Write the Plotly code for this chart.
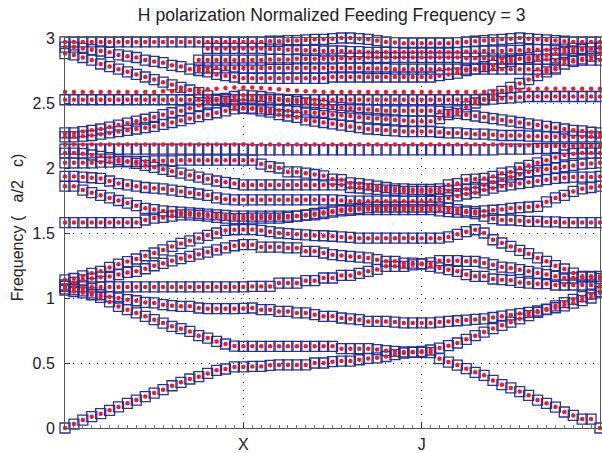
import plotly.graph_objects as go

k_index = list(range(61))
x_tick_vals = [20, 40]
x_tick_text = ["X", "J"]
y_tick_vals = [0, 0.5, 1, 1.5, 2, 2.5, 3]
y_tick_text = ["0", "0.5", "1", "1.5", "2", "2.5", "3"]
N = None

# ---- band values (Gamma -> X -> J -> Gamma, 61 k-points) ----
band_01 = [0, 0.03, 0.061, 0.087, 0.11, 0.136, 0.162, 0.19, 0.215, 0.242, 0.269, 0.295, 0.325, 0.351, 0.377, 0.395, 0.42, 0.444, 0.454, 0.47, 0.47,
           0.474, 0.474, 0.482, 0.485, 0.485, 0.485, 0.485, 0.5, 0.5, 0.51, 0.515, 0.515, 0.525, 0.535, 0.54, 0.55, 0.564, 0.577, 0.582, 0.582,
           0.58, 0.533, 0.507, 0.484, 0.456, 0.428, 0.405, 0.366, 0.333, 0.308, 0.28, 0.251, 0.215, 0.19, 0.161, 0.123, 0.097, 0.069, 0.069, 0.0]
band_02 = [1.06, 1.05, 1.04, 1.025, 1.005, 0.97, 0.935, 0.91, 0.885, 0.859, 0.833, 0.807, 0.782, 0.764, 0.743, 0.71, 0.692, 0.666, 0.646, 0.63, 0.628,
           0.628, 0.628, 0.628, 0.628, 0.628, 0.628, 0.628, 0.628, 0.628, 0.628, 0.61, 0.61, 0.61, 0.61, 0.603, 0.595, 0.59, 0.585, 0.585, 0.59,
           0.6, 0.615, 0.633, 0.654, 0.682, 0.71, 0.738, 0.765, 0.79, 0.815, 0.84, 0.865, 0.89, 0.915, 0.94, 0.965, 0.99, 1.01, 1.03, 1.05]
band_03 = [1.07, 1.065, 1.055, 1.04, 1.025, 1.01, 1.0, 0.987, 0.979, 0.966, 0.962, 0.949, 0.941, 0.936, 0.936, 0.923, 0.918, 0.918, 0.918, 0.918, 0.92,
           0.923, 0.91, 0.91, 0.897, 0.897, 0.885, 0.885, 0.872, 0.859, 0.859, 0.846, 0.84, 0.833, 0.82, 0.82, 0.82, 0.815, 0.808, 0.808, 0.808,
           0.808, 0.815, 0.82, 0.825, 0.83, 0.835, 0.84, 0.85, 0.86, 0.87, 0.88, 0.89, 0.9, 0.91, 0.925, 0.94, 0.96, 0.98, 1.0, 1.04]
band_04 = [1.09, 1.085, 1.085, 1.085, 1.085, 1.085, 1.085, 1.085, 1.085, 1.085, 1.085, 1.085, 1.085, 1.085, 1.085, 1.085, 1.085, 1.085, 1.085, 1.085, 1.085,
           1.089, 1.089, 1.089, 1.115, 1.115, 1.115, 1.133, 1.133, 1.154, 1.154, 1.174, 1.174, 1.19, 1.205, 1.22, 1.244, 1.244, 1.244, 1.255, 1.26,
           1.244, 1.231, 1.218, 1.205, 1.18, 1.167, 1.167, 1.146, 1.141, 1.136, 1.12, 1.115, 1.11, 1.11, 1.1, 1.1, 1.1, 1.1, 1.1, 1.09]
band_05 = [1.1, 1.12, 1.14, 1.15, 1.16, 1.166, 1.18, 1.197, 1.205, 1.225, 1.248, 1.267, 1.286, 1.303, 1.32, 1.337, 1.353, 1.37, 1.385, 1.402, 1.41,
           1.41, 1.392, 1.392, 1.392, 1.385, 1.385, 1.359, 1.359, 1.346, 1.333, 1.326, 1.32, 1.315, 1.308, 1.295, 1.282, 1.282, 1.269, 1.269, 1.265,
           1.27, 1.287, 1.287, 1.287, 1.282, 1.282, 1.27, 1.256, 1.238, 1.231, 1.218, 1.205, 1.192, 1.18, 1.167, 1.154, 1.154, 1.16, 1.167, 1.167]
band_06 = [1.14, 1.15, 1.17, 1.19, 1.205, 1.235, 1.26, 1.28, 1.3, 1.325, 1.346, 1.37, 1.397, 1.42, 1.44, 1.46, 1.482, 1.5, 1.52, 1.525, 1.526,
           1.526, 1.52, 1.51, 1.5, 1.495, 1.49, 1.485, 1.48, 1.479, 1.475, 1.47, 1.466, 1.46, 1.46, 1.46, 1.46, 1.46, 1.46, 1.46, 1.46,
           1.46, 1.46, 1.47, 1.49, 1.51, 1.525, 1.5, 1.448, 1.423, 1.397, 1.367, 1.341, 1.308, 1.282, 1.249, 1.223, 1.192, 1.167, 1.16, 1.15]
band_07 = [1.58, 1.58, 1.58, 1.58, 1.58, 1.58, 1.58, 1.58, 1.58, 1.6, 1.615, 1.62, 1.63, 1.64, 1.64, 1.635, 1.63, 1.62, 1.615, 1.61, 1.61,
           1.615, 1.615, 1.615, 1.615, 1.62, 1.63, 1.64, 1.65, 1.66, 1.67, 1.68, 1.685, 1.69, 1.695, 1.7, 1.7, 1.7, 1.7, 1.7, 1.7,
           1.7, 1.7, 1.69, 1.68, 1.67, 1.65, 1.63, 1.61, 1.6, 1.6, 1.595, 1.59, 1.59, 1.585, 1.585, 1.58, 1.58, 1.58, 1.58, 1.58]
band_08 = [1.935, 1.935, 1.93, 1.925, 1.92, 1.9, 1.88, 1.87, 1.86, 1.85, 1.845, 1.84, 1.83, 1.82, 1.81, 1.8, 1.79, 1.77, 1.76, 1.755, 1.755,
           1.755, 1.755, 1.755, 1.755, 1.755, 1.755, 1.755, 1.755, 1.755, 1.755, 1.75, 1.745, 1.745, 1.745, 1.745, 1.745, 1.745, 1.745, 1.745, 1.745,
           1.75, 1.76, 1.77, 1.785, 1.8, 1.81, 1.83, 1.845, 1.86, 1.87, 1.88, 1.89, 1.9, 1.91, 1.92, 1.925, 1.93, 1.93, 1.93, 1.935]
band_09 = [1.86, 1.86, 1.83, 1.81, 1.79, 1.77, 1.75, 1.73, 1.71, 1.69, 1.68, 1.67, 1.665, 1.66, 1.655, 1.65, 1.645, 1.64, 1.635, 1.63, 1.63,
           1.63, 1.63, 1.63, 1.63, 1.63, 1.63, 1.635, 1.64, 1.65, 1.66, 1.67, 1.675, 1.68, 1.68, 1.68, 1.68, 1.68, 1.68, 1.68, 1.68,
           1.68, 1.67, 1.665, 1.66, 1.66, 1.665, 1.67, 1.675, 1.68, 1.69, 1.695, 1.7, 1.705, 1.74, 1.77, 1.79, 1.82, 1.84, 1.85, 1.86]
band_10 = [2.04, 2.04, 2.04, 2.04, 2.045, 2.045, 2.05, 2.05, 2.05, 2.05, 2.055, 2.055, 2.055, 2.06, 2.06, 2.06, 2.06, 2.06, 2.06, 2.06, 2.06,
           2.06, 2.03, 2.01, 2.0, 1.97, 1.97, 1.96, 1.95, 1.94, 1.915, 1.91, 1.885, 1.88, 1.87, 1.86, 1.85, 1.84, 1.84, 1.835, 1.835,
           1.835, 1.84, 1.87, 1.88, 1.91, 1.915, 1.92, 1.935, 1.96, 1.97, 2.0, 2.02, 2.04, 2.06, 2.08, 2.1, 2.11, 2.115, 2.115, 2.115]
band_11 = [2.115, 2.115, 2.11, 2.1, 2.09, 2.08, 2.065, 2.05, 2.035, 2.02, 2.005, 1.99, 1.975, 1.96, 1.945, 1.93, 1.915, 1.9, 1.89, 1.88, 1.87,
           1.87, 1.87, 1.87, 1.87, 1.87, 1.87, 1.87, 1.87, 1.87, 1.87, 1.87, 1.85, 1.846, 1.84, 1.835, 1.83, 1.825, 1.82, 1.82, 1.82,
           1.82, 1.82, 1.825, 1.83, 1.84, 1.85, 1.87, 1.89, 1.91, 1.93, 1.95, 1.97, 1.98, 1.99, 2.0, 2.01, 2.02, 2.03, 2.035, 2.04]
band_12_red = [2.18, 2.18, 2.18, 2.18, 2.18, 2.18, 2.18, 2.18, 2.18, 2.18, 2.18, 2.18, 2.18, 2.18, 2.18, 2.18, 2.18, 2.18, 2.18, 2.18, 2.18,
               2.18, 2.18, 2.18, 2.18, 2.18, 2.18, 2.18, 2.18, 2.18, 2.18, 2.18, 2.18, 2.18, 2.18, 2.18, 2.18, 2.18, 2.18, 2.18, 2.18,
               2.18, 2.18, 2.18, 2.18, 2.18, 2.18, 2.18, 2.18, 2.18, 2.175, 2.175, 2.175, 2.17, 2.17, 2.17, 2.17, 2.17, 2.17, 2.17, 2.17]
band_12_blue = [2.145, 2.145, 2.145, 2.145, 2.145, 2.145, 2.145, 2.145, 2.145, 2.145, 2.145, 2.145, 2.145, 2.145, 2.145, 2.145, 2.145, 2.145, 2.145, 2.145, 2.145,
                2.14, 2.14, 2.14, 2.14, 2.14, 2.14, 2.14, 2.14, 2.14, 2.14, 2.14, 2.14, 2.14, 2.14, 2.14, 2.14, 2.14, 2.14, 2.14, 2.14,
                2.14, 2.14, 2.14, 2.14, 2.14, 2.14, 2.14, 2.14, 2.145, 2.145, 2.145, 2.145, 2.15, 2.15, 2.15, 2.15, 2.15, 2.15, 2.15, 2.15]
band_13 = [2.24, 2.24, 2.245, 2.25, 2.26, 2.27, 2.28, 2.29, 2.3, 2.31, 2.32, 2.335, 2.35, 2.365, 2.38, 2.395, 2.41, 2.425, 2.44, 2.455, 2.46,
           2.455, 2.44, 2.43, 2.41, 2.4, 2.39, 2.37, 2.36, 2.35, 2.34, 2.33, 2.32, 2.31, 2.3, 2.295, 2.29, 2.285, 2.28, 2.28, 2.28,
           2.28, 2.275, 2.27, 2.27, 2.265, 2.26, 2.26, 2.255, 2.25, 2.25, 2.25, 2.245, 2.245, 2.24, 2.24, 2.24, 2.24, 2.24, 2.24, 2.24]
band_14 = [2.27, 2.27, 2.28, 2.29, 2.3, 2.315, 2.33, 2.345, 2.36, 2.375, 2.39, 2.41, 2.425, 2.44, 2.46, 2.48, 2.5, 2.52, 2.535, 2.55, 2.56,
           2.555, 2.55, 2.54, 2.53, 2.52, 2.51, 2.5, 2.49, 2.48, 2.47, 2.465, 2.46, 2.455, 2.45, 2.445, 2.44, 2.44, 2.44, 2.44, 2.44,
           2.44, 2.435, 2.43, 2.42, 2.41, 2.4, 2.39, 2.38, 2.37, 2.36, 2.35, 2.34, 2.33, 2.32, 2.31, 2.3, 2.29, 2.285, 2.275, 2.27]
band_15 = [2.525, 2.525, 2.525, 2.525, 2.525, 2.525, 2.525, 2.525, 2.525, 2.525, 2.525, 2.525, 2.525, 2.525, 2.525, 2.525, 2.525, 2.525, 2.525, 2.525, 2.525,
           2.525, 2.525, 2.525, 2.525, 2.525, 2.525, 2.525, 2.525, 2.525, 2.525, 2.525, 2.525, 2.525, 2.525, 2.525, 2.525, 2.525, 2.525, 2.525, 2.525,
           2.525, 2.525, 2.525, 2.525, 2.525, 2.525, 2.525, 2.53, 2.535, 2.54, 2.545, 2.55, 2.55, 2.55, 2.55, 2.55, 2.55, 2.55, 2.55, 2.55]
band_16_red = [2.585, 2.585, 2.585, 2.585, 2.585, 2.585, 2.585, 2.585, 2.585, 2.585, 2.585, 2.59, 2.59, 2.595, 2.6, 2.6, 2.605, 2.61, 2.615, 2.62, 2.62,
               2.62, 2.615, 2.61, 2.605, 2.6, 2.595, 2.59, 2.59, 2.585, 2.585, 2.585, 2.585, 2.585, 2.585, 2.585, 2.585, 2.585, 2.585, 2.585, 2.585,
               2.585, 2.585, 2.585, 2.585, 2.585, 2.585, 2.585, 2.59, 2.595, 2.6, 2.6, 2.605, 2.61, 2.61, 2.61, 2.61, 2.61, 2.61, 2.61, 2.61]
band_17 = [2.88, 2.87, 2.85, 2.83, 2.8, 2.78, 2.76, 2.74, 2.72, 2.7, 2.68, 2.66, 2.64, 2.62, 2.6, 2.58, 2.555, 2.53, 2.51, 2.485, 2.46,
           2.46, 2.455, 2.45, 2.445, 2.44, 2.435, 2.43, 2.425, 2.42, 2.41, 2.405, 2.4, 2.39, 2.385, 2.38, 2.375, 2.37, 2.365, 2.36, 2.36,
           2.36, 2.38, 2.41, 2.44, 2.47, 2.5, 2.53, 2.56, 2.59, 2.62, 2.65, 2.68, 2.71, 2.74, 2.77, 2.8, 2.82, 2.84, 2.86, 2.88]
band_18 = [2.93, 2.93, 2.92, 2.91, 2.9, 2.89, 2.87, 2.86, 2.85, 2.83, 2.82, 2.81, 2.79, 2.78, 2.76, 2.75, 2.74, 2.72, 2.71, 2.7, 2.69,
           2.69, 2.69, 2.69, 2.69, 2.69, 2.69, 2.69, 2.69, 2.69, 2.7, 2.7, 2.7, 2.7, 2.7, 2.7, 2.7, 2.7, 2.7, 2.7, 2.7,
           2.7, 2.71, 2.72, 2.73, 2.75, 2.76, 2.78, 2.79, 2.81, 2.82, 2.84, 2.85, 2.86, 2.87, 2.88, 2.89, 2.9, 2.91, 2.92, 2.93]
band_19 = [N, N, N, N, N, N, N, N, N, N, N, N, N, N, N, 2.77, 2.77, 2.77, 2.77, 2.77, 2.77,
           2.77, 2.77, 2.77, 2.77, 2.77, 2.77, 2.77, 2.77, 2.77, 2.77, 2.77, 2.77, 2.77, 2.765, 2.765, 2.765, 2.76, 2.76, 2.76, 2.76,
           2.76, 2.76, 2.76, 2.76, 2.76, 2.76, 2.76, 2.76, 2.76, 2.76, 2.76, 2.76, 2.76, 2.76, 2.76, N, N, N, N, N]
band_20 = [N, N, N, N, N, N, N, N, N, N, N, N, N, N, N, 2.83, 2.83, 2.83, 2.83, 2.83, 2.83,
           2.83, 2.83, 2.835, 2.835, 2.835, 2.84, 2.84, 2.84, 2.84, 2.84, 2.845, 2.845, 2.845, 2.85, 2.85, 2.85, 2.85, 2.85, 2.85, 2.85,
           2.85, 2.85, 2.85, 2.85, 2.845, 2.845, 2.845, 2.84, 2.84, 2.84, 2.84, 2.835, 2.835, 2.835, 2.83, 2.83, 2.83, 2.83, 2.83, 2.83]
band_21 = [N, N, N, N, N, N, N, N, N, N, N, N, N, N, N, N, 2.92, 2.92, 2.92, 2.92, 2.92,
           2.92, 2.92, 2.915, 2.915, 2.91, 2.91, 2.905, 2.905, 2.9, 2.9, 2.9, 2.895, 2.895, 2.89, 2.89, 2.89, 2.89, 2.89, 2.89, 2.89,
           2.89, 2.89, 2.89, 2.89, 2.895, 2.895, 2.9, 2.9, 2.9, 2.905, 2.905, 2.91, 2.91, 2.91, 2.915, 2.915, 2.92, 2.92, 2.92, 2.92]
band_22 = [2.97, 2.97, 2.97, 2.97, 2.97, 2.97, 2.97, 2.97, 2.97, 2.97, 2.97, 2.97, 2.97, 2.97, 2.97, 2.97, 2.97, 2.97, 2.97, 2.97, 2.97,
           2.97, 2.97, 2.975, 2.975, 2.98, 2.98, 2.985, 2.99, 2.99, 2.995, 3.0, 3.0, 2.995, 2.99, 2.98, 2.97, 2.965, 2.96, 2.96, 2.96,
           2.96, 2.96, 2.96, 2.965, 2.97, 2.975, 2.98, 2.985, 2.99, 2.995, 3.0, 2.995, 2.99, 2.985, 2.98, 2.975, 2.97, 2.97, 2.97, 2.97]

red_bands = [band_01, band_02, band_03, band_04, band_05, band_06, band_07, band_08, band_09, band_10, band_11,
             band_12_red, band_13, band_14, band_15, band_16_red, band_17, band_18, band_19, band_20, band_21, band_22]
blue_bands = [band_01, band_02, band_03, band_04, band_05, band_06, band_07, band_08, band_09, band_10, band_11,
              band_12_blue, band_13, band_14, band_15, band_17, band_18, band_19, band_20, band_21, band_22]

fig = go.Figure()


def visible(values):
    xs, ys = [], []
    for k, v in zip(k_index, values):
        if v is not None and v <= 3.0:
            xs.append(k)
            ys.append(v)
    return xs, ys


for b in blue_bands:
    xs, ys = visible(b)
    fig.add_trace(go.Scatter(x=xs, y=ys, mode="markers", cliponaxis=False, showlegend=False, hoverinfo="skip",
                             marker=dict(symbol="square-open", size=10, color="#2c3192", line=dict(width=1.3, color="#2c3192"))))
for b in red_bands:
    xs, ys = visible(b)
    fig.add_trace(go.Scatter(x=xs, y=ys, mode="markers", cliponaxis=False, showlegend=False, hoverinfo="skip",
                             marker=dict(symbol="circle", size=4.5, color="#ee1d25", line=dict(width=0))))

font_family = "Liberation Sans, Arial, sans-serif"
fig.update_layout(
    template="none",
    width=602, height=453,
    margin=dict(l=65, r=2, t=38, b=25, autoexpand=False),
    paper_bgcolor="white", plot_bgcolor="white",
    font=dict(family=font_family, size=16, color="#222"),
    title=dict(text="H polarization Normalized Feeding Frequency = 3", xref="container", x=0.551, xanchor="center",
               yref="container", y=0.967, yanchor="middle", font=dict(size=17.6, family=font_family, color="#222")),
)
fig.update_xaxes(range=[0, 60], tickmode="array", tickvals=x_tick_vals, ticktext=x_tick_text, automargin=False,
                 showgrid=True, gridcolor="#333", griddash="1px,7px", gridwidth=1,
                 showline=True, mirror=True, linecolor="#555", linewidth=1,
                 ticks="inside", ticklen=5, tickcolor="#333", zeroline=False, ticklabelstandoff=2,
                 minor=dict(tickvals=k_index, ticks="inside", ticklen=3, tickcolor="#777", showgrid=False))
fig.update_yaxes(range=[0, 3], tickmode="array", tickvals=y_tick_vals, ticktext=y_tick_text, automargin=False,
                 showgrid=True, gridcolor="#333", griddash="1px,7px", gridwidth=1,
                 showline=True, mirror=True, linecolor="#555", linewidth=1,
                 ticks="inside", ticklen=5, tickcolor="#333", zeroline=False, ticklabelstandoff=6)
nb = "\u00a0"
fig.add_annotation(text="Frequency (" + nb * 3 + "a/2" + nb * 3 + "c)", xref="paper", yref="paper", x=-0.0897, y=0.515,
                   textangle=-90, showarrow=False, xanchor="center", yanchor="middle",
                   font=dict(size=16, family=font_family, color="#222"))
fig.write_html("out.html", config={"displayModeBar": False},
               post_script="document.body.style.margin='0px';document.body.style.overflow='hidden';")
